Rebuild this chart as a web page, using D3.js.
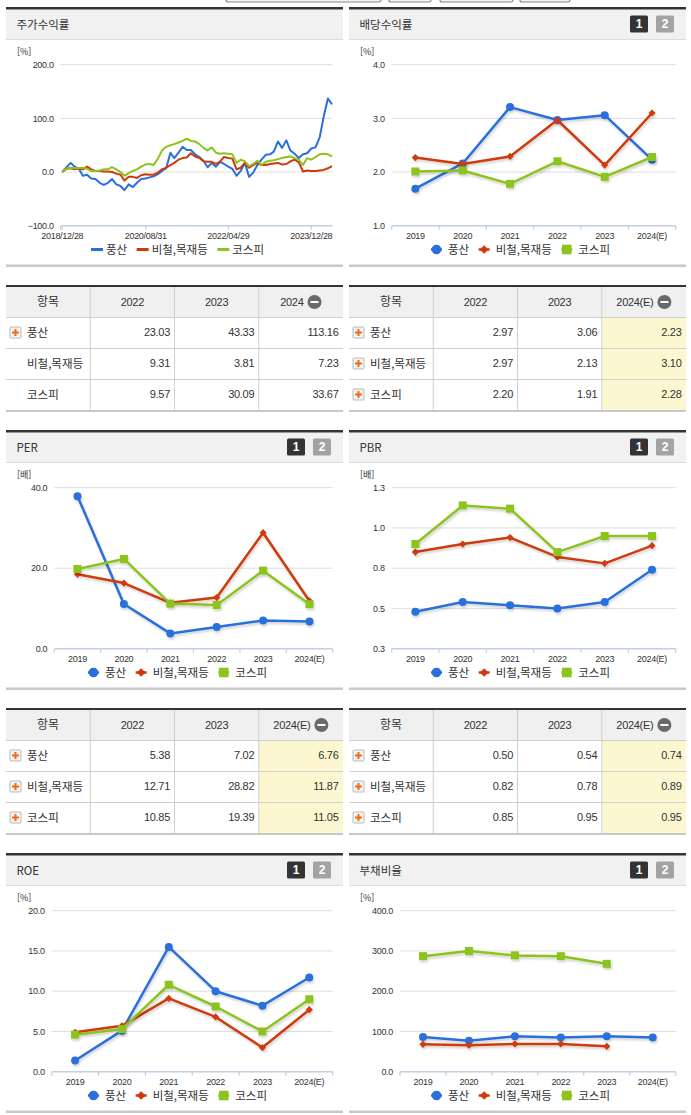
<!DOCTYPE html>
<html lang="ko">
<head>
<meta charset="UTF-8">
<title>풍산 투자지표</title>
<script src="https://cdn.jsdelivr.net/npm/d3@7"></script>
<style>
body { margin: 0; background: #fff; }
svg { display: block; font-family: "Noto Sans CJK KR", "Noto Sans", sans-serif; }
.num { font-family: "Liberation Sans", Arial, sans-serif; letter-spacing: -0.3px; }
</style>
</head>
<body>
<svg width="691" height="1115"></svg>
<script>
// ---- data ----
const names = ["풍산", "비철,목재등", "코스피"];
const colors = ["#2a6fdc", "#cf3a0c", "#8cc31e"];
const years = ["2019", "2020", "2021", "2022", "2023", "2024(E)"];

// 주가수익률, one point per month (28th)
const priceMonths = [
  "2018-12","2019-01","2019-02","2019-03","2019-04","2019-05","2019-06","2019-07","2019-08","2019-09","2019-10","2019-11","2019-12",
  "2020-01","2020-02","2020-03","2020-04","2020-05","2020-06","2020-07","2020-08","2020-09","2020-10","2020-11","2020-12",
  "2021-01","2021-02","2021-03","2021-04","2021-05","2021-06","2021-07","2021-08","2021-09","2021-10","2021-11","2021-12",
  "2022-01","2022-02","2022-03","2022-04","2022-05","2022-06","2022-07","2022-08","2022-09","2022-10","2022-11","2022-12",
  "2023-01","2023-02","2023-03","2023-04","2023-05","2023-06","2023-07","2023-08","2023-09","2023-10","2023-11","2023-12",
  "2024-01","2024-02","2024-03","2024-04","2024-05"
];
const priceTickLabels = ["2018/12/28", "2020/08/31", "2022/04/29", "2023/12/28"];
const priceEnd = "2024/05/28";
const pricePoongsan = [0,9,17,10,6,-7,-5,-12,-13,-20, -24,-20,-13,-23,-26,-34,-23,-28,-20,-13,
  -12,-10,-8,-4,2,7,36,26,36,47, 41,41,33,28,21,9,17,10,19,15, 10,6,-7,2,17,-9,-1,13,23,32,
  33,38,57,45,59,40,34,26,33,35, 44,46,65,103,137,126];
const priceMetal = [0,6,7,5,6,5,10,5,2,2, 1,1,0,-3,-5,-16,-9,-9,-11,-6,
  -4,-5,-5,-1,5,8,13,17,23,26, 27,35,29,26,20,19,19,15,20,28, 26,25,5,8,17,8,13,17,13,13,
  15,16,17,14,15,20,23,18,1,3, 2,2,3,4,7,11];
const priceKospi = [0,7,8,7,7,8,6,2,2,3, 5,5,9,5,0,-7,-2,2,5,10,
  14,15,13,25,40,47,50,52,55,58, 62,58,57,52,45,40,46,36,34,35, 34,33,17,23,20,11,15,21,13,19,
  21,22,24,26,28,29,26,23,13,26, 23,28,33,34,33,29];
const priceTicks = [-100, 0, 100, 200];

// 배당수익률 [%]
const divPoongsan = [1.69, 2.16, 3.21, 2.97, 3.06, 2.23];
const divMetal    = [2.27, 2.15, 2.29, 2.97, 2.13, 3.10];
const divKospi    = [2.01, 2.03, 1.78, 2.20, 1.91, 2.28];
const divTicks = [1, 2, 3, 4];

// PER [배]
const perPoongsan = [37.9, 11.1, 3.8, 5.38, 7.02, 6.76];
const perMetal    = [18.5, 16.3, 11.4, 12.71, 28.82, 11.87];
const perKospi    = [19.8, 22.3, 11.2, 10.85, 19.39, 11.05];
const perTicks = [0, 20, 40];

// PBR [배]
const pbrPoongsan = [0.48, 0.54, 0.52, 0.50, 0.54, 0.74];
const pbrMetal    = [0.85, 0.90, 0.94, 0.82, 0.78, 0.89];
const pbrKospi    = [0.90, 1.14, 1.12, 0.85, 0.95, 0.95];
const pbrTicks = [0.25, 0.5, 0.75, 1.0, 1.25];

// ROE [%]
const roePoongsan = [1.4, 5.1, 15.5, 10.0, 8.2, 11.7];
const roeMetal    = [4.9, 5.7, 9.1, 6.8, 3.0, 7.7];
const roeKospi    = [4.6, 5.3, 10.8, 8.1, 5.0, 9.0];
const roeTicks = [0, 5, 10, 15, 20];

// 부채비율 [%]
const debtPoongsan = [86, 77, 88, 85, 88, 85];
const debtMetal    = [68, 66, 69, 69, 63, null];
const debtKospi    = [287, 300, 289, 287, 268, null];
const debtTicks = [0, 100, 200, 300, 400];

// 주가수익률 table
const retCols = ["2022", "2023", "2024"];
const retPoongsan = [23.03, 43.33, 113.16];
const retMetal = [9.31, 3.81, 7.23];
const retKospi = [9.57, 30.09, 33.67];
const estCols = ["2022", "2023", "2024(E)"];

// ---- drawing ----
const svg = d3.select("svg");
const PW = 337;
const fmt1 = d3.format(".1f"), fmt2 = d3.format(".2f");

svg.append("defs").append("filter").attr("id", "shadow")
    .attr("x", "-5%").attr("y", "-10%").attr("width", "110%").attr("height", "130%")
  .append("feDropShadow")
    .attr("dx", 1).attr("dy", 2).attr("stdDeviation", 1)
    .attr("flood-color", "#000").attr("flood-opacity", 0.18);

// tabs peeking at the top edge
[[226, 381], [389, 431], [440, 513], [520, 570]].forEach(t => {
  svg.append("rect").attr("x", t[0]).attr("y", -4).attr("width", t[1] - t[0]).attr("height", 6)
    .attr("rx", 2).attr("fill", "#f3f3f3").attr("stroke", "#8a8a8a").attr("stroke-width", 1.2);
});

function panel(px, py, title, buttons) {
  svg.append("rect").attr("x", px).attr("y", py + 2.5).attr("width", PW).attr("height", 29.5).attr("fill", "#f1f1f1");
  svg.append("rect").attr("x", px).attr("y", py).attr("width", PW).attr("height", 2.5).attr("fill", "#333");
  svg.append("rect").attr("x", px).attr("y", py + 32).attr("width", PW).attr("height", 1).attr("fill", "#dcdcdc");
  svg.append("rect").attr("x", px).attr("y", py + 257.5).attr("width", PW).attr("height", 2.5).attr("fill", "#c8c8c8");
  svg.append("text").attr("x", px + 10.5).attr("y", py + 18).attr("dy", "0.35em")
    .attr("font-size", 11.5).attr("fill", "#333").text(title);
  if (buttons) {
    [["1", "#333", 56], ["2", "#a3a3a3", 30]].forEach(b => {
      svg.append("rect").attr("x", px + PW - b[2]).attr("y", py + 8.5).attr("width", 18).attr("height", 17)
        .attr("rx", 1.5).attr("fill", b[1]);
      svg.append("text").attr("x", px + PW - b[2] + 9).attr("y", py + 17).attr("dy", "0.36em")
        .attr("text-anchor", "middle").attr("font-size", 12).attr("font-weight", "bold")
        .attr("font-family", "Liberation Sans, Arial, sans-serif").attr("fill", "#fff").text(b[0]);
    });
  }
}

function marker(g, i, cx, cy, big) {
  const s = big ? 1.2 : 1;
  if (i === 0) {
    g.append("circle").attr("cx", cx).attr("cy", cy).attr("r", 4 * s).attr("fill", colors[0]);
  } else if (i === 1) {
    const h = 3.6 * s;
    g.append("path").attr("d", `M${cx},${cy - h}L${cx + h},${cy}L${cx},${cy + h}L${cx - h},${cy}Z`).attr("fill", colors[1]);
  } else {
    const h = 4 * s;
    g.append("rect").attr("x", cx - h).attr("y", cy - h).attr("width", 2 * h).attr("height", 2 * h).attr("fill", colors[2]);
  }
}

function legend(px, py, withMarkers) {
  const g = svg.append("g");
  let cx = 0;
  const lineLen = withMarkers ? 11 : 12, gap = withMarkers ? 6 : 3;
  names.forEach((n, i) => {
    const item = g.append("g").attr("transform", `translate(${cx},0)`);
    item.append("line").attr("x1", 0).attr("x2", lineLen).attr("stroke", colors[i])
      .attr("stroke-width", withMarkers ? 2.5 : 3);
    if (withMarkers) marker(item, i, lineLen / 2, 0, true);
    const t = item.append("text").attr("x", lineLen + gap).attr("dy", "0.35em")
      .attr("font-size", 11.5).attr("fill", "#333").text(n);
    cx += lineLen + gap + t.node().getComputedTextLength() + 9.5;
  });
  const total = cx - 9.5;
  g.attr("transform", `translate(${px + PW / 2 + 3 - total / 2},${py + 242.5})`);
}

function yAxis(px, py, x0, x1, y, ticks, unit) {
  const axisColor = "#c2d0e2";
  ticks.forEach((t, k) => {
    if (k > 0) {
      svg.append("line").attr("x1", x0).attr("x2", x1).attr("y1", y(t)).attr("y2", y(t))
        .attr("stroke", "#dedede").attr("stroke-width", 1);
    }
    svg.append("text").attr("class", "num").attr("x", x0 - 7).attr("y", y(t)).attr("dy", "0.35em")
      .attr("text-anchor", "end").attr("font-size", 9).attr("fill", "#333").text(fmt1(t));
  });
  svg.append("line").attr("x1", x0).attr("x2", x1).attr("y1", y(ticks[0])).attr("y2", y(ticks[0]))
    .attr("stroke", axisColor).attr("stroke-width", 1.5);
  svg.append("text").attr("x", px + 11).attr("y", py + 45).attr("dy", "0.35em")
    .attr("font-size", 9).attr("fill", "#333").text(unit);
}

function catChart(px, py, title, unit, series, ticks, left) {
  panel(px, py, title, true);
  const top = py + 57.7, bottom = py + 218.7, x0 = px + left, x1 = px + PW - 10.3;
  const x = d3.scaleBand().domain(years).range([x0, x1]);
  const y = d3.scaleLinear().domain([ticks[0], ticks[ticks.length - 1]]).range([bottom, top]);
  yAxis(px, py, x0, x1, y, ticks, unit);
  // band boundary ticks and year labels
  years.concat([null]).forEach(d => {
    const xx = d === null ? x1 : x(d);
    svg.append("line").attr("x1", xx).attr("x2", xx).attr("y1", bottom).attr("y2", bottom + 4)
      .attr("stroke", "#c2d0e2").attr("stroke-width", 1.2);
  });
  years.forEach(d => {
    svg.append("text").attr("class", "num").attr("x", x(d) + x.bandwidth() / 2).attr("y", py + 229)
      .attr("dy", "0.35em").attr("text-anchor", "middle").attr("font-size", 9).attr("fill", "#333").text(d);
  });
  const line = d3.line().defined(d => d != null)
    .x((d, k) => x(years[k]) + x.bandwidth() / 2).y(d => y(d));
  series.forEach((s, i) => {
    const g = svg.append("g").attr("filter", "url(#shadow)");
    g.append("path").datum(s).attr("d", line).attr("fill", "none")
      .attr("stroke", colors[i]).attr("stroke-width", 2.5).attr("stroke-linejoin", "round");
    s.forEach((v, k) => { if (v != null) marker(g, i, x(years[k]) + x.bandwidth() / 2, y(v), false); });
  });
  legend(px, py, true);
}

function priceChart(px, py) {
  panel(px, py, "주가수익률", false);
  const top = py + 57.7, bottom = py + 218.7, x0 = px + 54.7, x1 = px + PW - 10.3;
  const parseMonth = d3.timeParse("%Y-%m-%d"), parseTick = d3.timeParse("%Y/%m/%d");
  const x = d3.scaleTime().domain([parseTick(priceTickLabels[0]), parseTick(priceEnd)]).range([x0 + 1.6, x1 - 0.7]);
  const y = d3.scaleLinear().domain([priceTicks[0], priceTicks[priceTicks.length - 1]]).range([bottom, top]);
  yAxis(px, py, x0, x1, y, priceTicks, "[%]");
  svg.append("line").attr("x1", x0).attr("x2", x0).attr("y1", bottom).attr("y2", bottom + 4)
    .attr("stroke", "#c2d0e2").attr("stroke-width", 1.2);
  priceTickLabels.forEach(t => {
    const xx = x(parseTick(t));
    svg.append("line").attr("x1", xx).attr("x2", xx).attr("y1", bottom).attr("y2", bottom + 4)
      .attr("stroke", "#c2d0e2").attr("stroke-width", 1.2);
    svg.append("text").attr("class", "num").attr("x", xx).attr("y", py + 229).attr("dy", "0.35em")
      .attr("text-anchor", "middle").attr("font-size", 9).attr("fill", "#333").text(t);
  });
  const dates = priceMonths.map(m => parseMonth(m + "-28"));
  const line = d3.line().x((d, k) => x(dates[k])).y(d => y(d));
  [pricePoongsan, priceMetal, priceKospi].forEach((s, i) => {
    svg.append("path").datum(s).attr("d", line).attr("fill", "none")
      .attr("stroke", colors[i]).attr("stroke-width", 2).attr("stroke-linejoin", "round");
  });
  legend(px, py, false);
}

function plusIcon(cx, cy) {
  svg.append("rect").attr("x", cx - 5.5).attr("y", cy - 5.5).attr("width", 11).attr("height", 11)
    .attr("rx", 1).attr("fill", "#f4f4f4").attr("stroke", "#b8b8b8");
  svg.append("rect").attr("x", cx - 3.5).attr("y", cy - 1).attr("width", 7).attr("height", 2).attr("fill", "#f26a10");
  svg.append("rect").attr("x", cx - 1).attr("y", cy - 3.5).attr("width", 2).attr("height", 7).attr("fill", "#f26a10");
}

function table(px, py, cols, rows, estimated, iconRows) {
  const cw = PW / 4;
  svg.append("rect").attr("x", px).attr("y", py).attr("width", PW).attr("height", 2).attr("fill", "#333");
  svg.append("rect").attr("x", px).attr("y", py + 2).attr("width", PW).attr("height", 30).attr("fill", "#f0f0f0");
  if (estimated) {
    svg.append("rect").attr("x", px + 3 * cw).attr("y", py + 32).attr("width", cw).attr("height", 93).attr("fill", "#fdf7d1");
  }
  [32, 63, 94].forEach(o => svg.append("rect").attr("x", px).attr("y", py + o).attr("width", PW).attr("height", 1).attr("fill", "#cfcfcf"));
  svg.append("rect").attr("x", px).attr("y", py + 125).attr("width", PW).attr("height", 2).attr("fill", "#c8c8c8");
  [1, 2, 3].forEach(k => svg.append("rect").attr("x", px + k * cw - 0.5).attr("y", py + 2).attr("width", 1).attr("height", 123).attr("fill", "#cfcfcf"));
  // header
  svg.append("text").attr("x", px + cw / 2).attr("y", py + 17).attr("dy", "0.35em").attr("text-anchor", "middle")
    .attr("font-size", 12).attr("fill", "#333").text("항목");
  cols.forEach((c, k) => {
    const t = svg.append("text").attr("class", "num").attr("y", py + 17).attr("dy", "0.35em")
      .attr("font-size", 11).attr("fill", "#333").text(c);
    const cx = px + (k + 1.5) * cw;
    if (k === cols.length - 1) {
      const w = t.node().getComputedTextLength(), tot = w + 4 + 14;
      t.attr("x", cx - tot / 2);
      const ccx = cx - tot / 2 + w + 4 + 7;
      svg.append("circle").attr("cx", ccx).attr("cy", py + 17).attr("r", 7).attr("fill", "#6a6a6a");
      svg.append("rect").attr("x", ccx - 4).attr("y", py + 16).attr("width", 8).attr("height", 2).attr("fill", "#fff");
    } else {
      t.attr("x", cx).attr("text-anchor", "middle");
    }
  });
  rows.forEach((r, i) => {
    const cy = py + 32 + i * 31 + 15.5;
    if (iconRows[i]) plusIcon(px + 9.5, cy);
    svg.append("text").attr("x", px + 21).attr("y", cy).attr("dy", "0.35em")
      .attr("font-size", 11.5).attr("fill", "#333").text(names[i]);
    r.forEach((v, k) => {
      svg.append("text").attr("class", "num").attr("x", px + (k + 2) * cw - 4.5).attr("y", cy).attr("dy", "0.35em")
        .attr("text-anchor", "end").attr("font-size", 11).attr("fill", "#333").text(fmt2(v));
    });
  });
}

const L = 6, R = 349;
priceChart(L, 7);
catChart(R, 7, "배당수익률", "[%]", [divPoongsan, divMetal, divKospi], divTicks, 42.7);
table(L, 285, retCols, [retPoongsan, retMetal, retKospi], false, [true, false, false]);
table(R, 285, estCols, [divPoongsan, divMetal, divKospi].map(s => s.slice(3)), true, [true, true, true]);
catChart(L, 430, "PER", "[배]", [perPoongsan, perMetal, perKospi], perTicks, 48.3);
catChart(R, 430, "PBR", "[배]", [pbrPoongsan, pbrMetal, pbrKospi], pbrTicks, 42.7);
table(L, 708, estCols, [perPoongsan, perMetal, perKospi].map(s => s.slice(3)), true, [true, true, true]);
table(R, 708, estCols, [pbrPoongsan, pbrMetal, pbrKospi].map(s => s.slice(3)), true, [true, true, true]);
catChart(L, 853, "ROE", "[%]", [roePoongsan, roeMetal, roeKospi], roeTicks, 45.7);
catChart(R, 853, "부채비율", "[%]", [debtPoongsan, debtMetal, debtKospi], debtTicks, 51);
</script>
</body>
</html>
